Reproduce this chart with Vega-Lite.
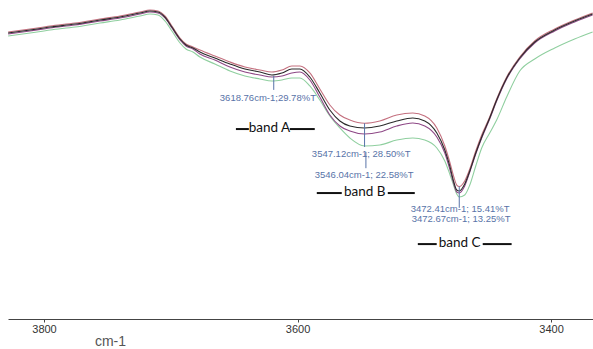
{
  "$schema": "https://vega.github.io/schema/vega-lite/v6.json",
  "width": 585,
  "height": 319,
  "autosize": {"type": "none"},
  "padding": {"left": 8, "top": 0, "right": 0, "bottom": 30},
  "background": "white",
  "config": {"view": {"stroke": null}},
  "datasets": {
    "spectra": [
      {"wn": 3828.3, "black": 47.17, "red": 47.38, "purple": 46.97, "green": 46.55},
      {"wn": 3811.0, "black": 47.79, "red": 48.00, "purple": 47.59, "green": 47.17},
      {"wn": 3795.2, "black": 48.41, "red": 48.62, "purple": 48.21, "green": 47.79},
      {"wn": 3775.5, "black": 49.03, "red": 49.24, "purple": 48.83, "green": 48.41},
      {"wn": 3755.8, "black": 49.86, "red": 50.07, "purple": 49.66, "green": 49.24},
      {"wn": 3740.0, "black": 50.48, "red": 50.69, "purple": 50.28, "green": 49.86},
      {"wn": 3724.3, "black": 51.31, "red": 51.52, "purple": 51.10, "green": 50.69},
      {"wn": 3716.4, "black": 51.72, "red": 51.93, "purple": 51.52, "green": 51.10},
      {"wn": 3710.1, "black": 51.52, "red": 51.72, "purple": 51.31, "green": 50.90},
      {"wn": 3704.6, "black": 50.48, "red": 50.69, "purple": 50.28, "green": 49.66},
      {"wn": 3699.1, "black": 48.41, "red": 48.62, "purple": 48.21, "green": 47.59},
      {"wn": 3692.7, "black": 45.93, "red": 46.14, "purple": 45.72, "green": 45.10},
      {"wn": 3688.0, "black": 44.69, "red": 44.90, "purple": 44.48, "green": 43.86},
      {"wn": 3682.5, "black": 44.07, "red": 44.28, "purple": 43.86, "green": 43.24},
      {"wn": 3677.0, "black": 43.24, "red": 43.66, "purple": 42.83, "green": 42.21},
      {"wn": 3665.2, "black": 42.00, "red": 42.41, "purple": 41.59, "green": 40.76},
      {"wn": 3653.3, "black": 40.76, "red": 41.17, "purple": 40.14, "green": 39.31},
      {"wn": 3641.5, "black": 39.72, "red": 40.14, "purple": 39.10, "green": 38.28},
      {"wn": 3629.7, "black": 39.10, "red": 39.52, "purple": 38.48, "green": 37.66},
      {"wn": 3620.2, "black": 38.48, "red": 39.10, "purple": 38.07, "green": 37.24},
      {"wn": 3612.3, "black": 38.90, "red": 39.52, "purple": 38.28, "green": 37.45},
      {"wn": 3604.5, "black": 39.72, "red": 40.34, "purple": 38.90, "green": 37.86},
      {"wn": 3598.1, "black": 39.72, "red": 40.34, "purple": 39.10, "green": 37.86},
      {"wn": 3590.3, "black": 38.07, "red": 38.90, "purple": 37.45, "green": 36.21},
      {"wn": 3582.4, "black": 34.76, "red": 35.59, "purple": 33.93, "green": 33.31},
      {"wn": 3574.5, "black": 31.24, "red": 32.28, "purple": 30.21, "green": 30.00},
      {"wn": 3566.6, "black": 28.97, "red": 30.21, "purple": 27.93, "green": 27.52},
      {"wn": 3558.7, "black": 27.93, "red": 29.17, "purple": 26.90, "green": 25.45},
      {"wn": 3547.1, "black": 27.52, "red": 28.50, "purple": 26.28, "green": 23.79},
      {"wn": 3535.1, "black": 27.93, "red": 28.97, "purple": 26.69, "green": 24.00},
      {"wn": 3521.7, "black": 28.97, "red": 30.21, "purple": 27.93, "green": 25.03},
      {"wn": 3509.1, "black": 29.59, "red": 30.62, "purple": 28.55, "green": 25.45},
      {"wn": 3499.6, "black": 28.97, "red": 30.00, "purple": 27.93, "green": 25.03},
      {"wn": 3490.1, "black": 26.48, "red": 27.52, "purple": 25.66, "green": 23.38},
      {"wn": 3483.8, "black": 22.97, "red": 23.79, "purple": 22.34, "green": 20.69},
      {"wn": 3479.9, "black": 19.66, "red": 20.48, "purple": 19.03, "green": 18.00},
      {"wn": 3476.7, "black": 16.34, "red": 17.38, "purple": 15.93, "green": 15.52},
      {"wn": 3474.4, "black": 14.69, "red": 15.72, "purple": 14.28, "green": 13.86},
      {"wn": 3472.4, "black": 14.48, "red": 15.41, "purple": 14.07, "green": 13.25},
      {"wn": 3468.1, "black": 15.93, "red": 16.55, "purple": 15.52, "green": 13.66},
      {"wn": 3464.1, "black": 18.62, "red": 19.03, "purple": 18.41, "green": 15.72},
      {"wn": 3459.4, "black": 22.34, "red": 22.76, "purple": 22.14, "green": 19.66},
      {"wn": 3454.7, "black": 25.66, "red": 26.07, "purple": 25.45, "green": 23.38},
      {"wn": 3448.4, "black": 29.59, "red": 29.79, "purple": 29.38, "green": 26.48},
      {"wn": 3442.9, "black": 33.31, "red": 33.52, "purple": 33.10, "green": 29.17},
      {"wn": 3435.0, "black": 37.86, "red": 38.07, "purple": 37.66, "green": 33.93},
      {"wn": 3424.7, "black": 42.00, "red": 42.21, "purple": 41.79, "green": 39.31},
      {"wn": 3412.9, "black": 45.31, "red": 45.52, "purple": 45.10, "green": 41.79},
      {"wn": 3397.1, "black": 47.79, "red": 48.00, "purple": 47.59, "green": 44.07},
      {"wn": 3381.4, "black": 49.66, "red": 49.86, "purple": 49.45, "green": 45.93},
      {"wn": 3367.2, "black": 51.10, "red": 51.31, "purple": 50.90, "green": 47.38}
    ],
    "peaks": [
      {"wn": 3618.76, "top": 38.3, "bottom": 35.4},
      {"wn": 3547.12, "top": 28.50, "bottom": 23.6},
      {"wn": 3546.04, "top": 22.58, "bottom": 19.2},
      {"wn": 3472.41, "top": 15.41, "bottom": 11.0}
    ],
    "peakLabels": [
      {"wn": 3661.3, "T": 33.72, "text": "3618.76cm-1;29.78%T"},
      {"wn": 3588.7, "T": 22.14, "text": "3547.12cm-1; 28.50%T"},
      {"wn": 3586.4, "T": 17.79, "text": "3546.04cm-1; 22.58%T"},
      {"wn": 3510.7, "T": 10.76, "text": "3472.41cm-1; 15.41%T"},
      {"wn": 3509.9, "T": 8.59, "text": "3472.67cm-1; 13.25%T"}
    ],
    "bands": [
      {"wn": 3622.2, "T": 27.52, "text": "band A"},
      {"wn": 3546.9, "T": 14.28, "text": "band B"},
      {"wn": 3472.1, "T": 3.72, "text": "band C"}
    ],
    "bandDashes": [
      {"from": 3648.6, "to": 3638.4, "T": 27.3},
      {"from": 3606.1, "to": 3586.4, "T": 27.3},
      {"from": 3584.8, "to": 3565.1, "T": 14.06},
      {"from": 3528.8, "to": 3507.5, "T": 14.06},
      {"from": 3505.1, "to": 3490.2, "T": 3.5},
      {"from": 3453.9, "to": 3431.1, "T": 3.5}
    ]
  },
  "encoding": {
    "x": {
      "field": "wn",
      "type": "quantitative",
      "scale": {"domain": [3366.9, 3828.4], "reverse": true, "nice": false, "zero": false},
      "axis": {
        "values": [3800, 3600, 3400],
        "format": "d",
        "grid": false,
        "title": "cm-1",
        "titleX": 102,
        "titleY": 26,
        "titleAlign": "center",
        "titleBaseline": "alphabetic",
        "titleFont": "Liberation Sans",
        "titleFontSize": 14,
        "titleFontWeight": "normal",
        "titleColor": "#555555",
        "labelFont": "Liberation Sans",
        "labelFontSize": 11,
        "labelColor": "#333333",
        "labelPadding": 1,
        "labelFlush": false,
        "tickSize": 3,
        "tickColor": "#444444",
        "domainColor": "#444444"
      }
    }
  },
  "layer": [
    {
      "data": {"name": "spectra"},
      "mark": {"type": "line", "interpolate": "monotone", "strokeWidth": 1.1, "color": "#8fcf9f", "clip": true},
      "encoding": {"y": {"field": "green", "type": "quantitative", "scale": {"domain": [-12, 54], "nice": false, "zero": false}, "axis": null}}
    },
    {
      "data": {"name": "spectra"},
      "mark": {"type": "line", "interpolate": "monotone", "strokeWidth": 1.1, "color": "#8e4886", "clip": true},
      "encoding": {"y": {"field": "purple", "type": "quantitative", "scale": {"domain": [-12, 54], "nice": false, "zero": false}, "axis": null}}
    },
    {
      "data": {"name": "spectra"},
      "mark": {"type": "line", "interpolate": "monotone", "strokeWidth": 1.1, "color": "#c4707f", "clip": true},
      "encoding": {"y": {"field": "red", "type": "quantitative", "scale": {"domain": [-12, 54], "nice": false, "zero": false}, "axis": null}}
    },
    {
      "data": {"name": "spectra"},
      "mark": {"type": "line", "interpolate": "monotone", "strokeWidth": 1.1, "color": "#2a2a2a", "clip": true},
      "encoding": {"y": {"field": "black", "type": "quantitative", "scale": {"domain": [-12, 54], "nice": false, "zero": false}, "axis": null}}
    },
    {
      "data": {"name": "peaks"},
      "mark": {"type": "rule", "strokeWidth": 1, "color": "#5873a8"},
      "encoding": {
        "y": {"field": "top", "type": "quantitative", "scale": {"domain": [-12, 54], "nice": false, "zero": false}, "axis": null},
        "y2": {"field": "bottom"}
      }
    },
    {
      "data": {"name": "peakLabels"},
      "mark": {"type": "text", "align": "left", "baseline": "middle", "font": "Liberation Sans", "fontSize": 9.5, "color": "#5873a8"},
      "encoding": {
        "y": {"field": "T", "type": "quantitative", "scale": {"domain": [-12, 54], "nice": false, "zero": false}, "axis": null},
        "text": {"field": "text"}
      }
    },
    {
      "data": {"name": "bandDashes"},
      "mark": {"type": "rule", "strokeWidth": 2, "color": "#111111"},
      "encoding": {
        "x": {"field": "from", "type": "quantitative"},
        "x2": {"field": "to"},
        "y": {"field": "T", "type": "quantitative", "scale": {"domain": [-12, 54], "nice": false, "zero": false}, "axis": null}
      }
    },
    {
      "data": {"name": "bands"},
      "mark": {"type": "text", "align": "center", "baseline": "middle", "font": "Lato", "fontSize": 13.5, "color": "#111111"},
      "encoding": {
        "y": {"field": "T", "type": "quantitative", "scale": {"domain": [-12, 54], "nice": false, "zero": false}, "axis": null},
        "text": {"field": "text"}
      }
    }
  ]
}
